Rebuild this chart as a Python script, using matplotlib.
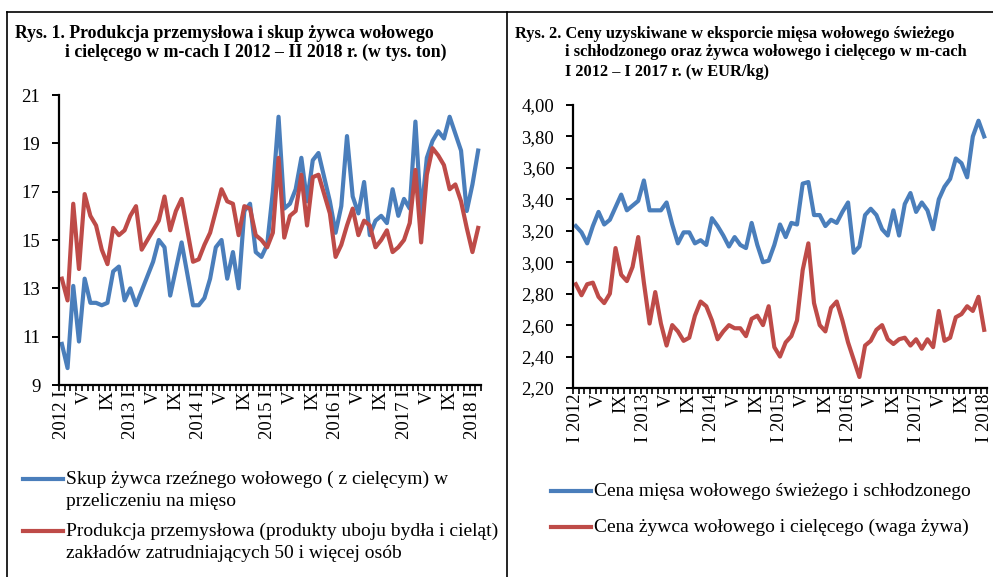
import matplotlib.pyplot as plt
from matplotlib.lines import Line2D

plt.rcParams['font.family'] = ['Liberation Serif', 'DejaVu Serif']

# Rys. 1 - miesiace I 2012 - II 2018 (tys. ton)
skup = [10.7, 9.7, 13.1, 10.8, 13.4, 12.4, 12.4, 12.3, 12.4, 13.7,
        13.9, 12.5, 13.0, 12.3, 12.9, 13.5, 14.1, 15.0, 14.7, 12.7,
        13.8, 14.9, 13.6, 12.3, 12.3, 12.6, 13.4, 14.7, 15.0, 13.4,
        14.5, 13.0, 16.2, 16.5, 14.5, 14.3, 14.8, 17.0, 20.1, 16.3,
        16.5, 17.1, 18.4, 16.6, 18.3, 18.6, 17.6, 16.6, 15.3, 16.4,
        19.3, 16.8, 16.1, 17.4, 15.2, 15.8, 16.0, 15.7, 17.1, 16.0,
        16.7, 16.3, 19.9, 16.0, 18.4, 19.1, 19.5, 19.2, 20.1, 19.4,
        18.7, 16.2, 17.3, 18.7]
produkcja = [13.4, 12.5, 16.5, 13.8, 16.9, 16.0, 15.6, 14.6, 14.0, 15.5,
             15.2, 15.4, 16.0, 16.4, 14.6, 15.0, 15.4, 15.8, 16.8, 15.4,
             16.2, 16.7, 15.4, 14.1, 14.2, 14.8, 15.3, 16.2, 17.1, 16.6,
             16.5, 15.2, 16.4, 16.3, 15.2, 15.0, 14.7, 15.3, 18.4, 15.1,
             16.0, 16.2, 17.7, 15.6, 17.6, 17.7, 16.9, 16.1, 14.3, 14.8,
             15.6, 16.3, 15.2, 15.8, 15.6, 14.7, 15.0, 15.4, 14.5, 14.7,
             15.0, 15.7, 17.9, 14.9, 17.7, 18.8, 18.5, 18.1, 17.1, 17.3,
             16.6, 15.5, 14.5, 15.5]
labels1 = ['2012 I', 'V', 'IX', '2013 I', 'V', 'IX', '2014 I', 'V', 'IX',
           '2015 I', 'V', 'IX', '2016 I', 'V', 'IX', '2017 I', 'V', 'IX', '2018 I']

# Rys. 2 - ceny eksportowe (EUR/kg), I 2012 - I 2018
cena_mieso = [3.23, 3.19, 3.12, 3.23, 3.32, 3.24, 3.27, 3.35, 3.43, 3.33,
              3.36, 3.39, 3.52, 3.33, 3.33, 3.33, 3.38, 3.24, 3.12, 3.19,
              3.19, 3.12, 3.14, 3.11, 3.28, 3.23, 3.17, 3.10, 3.16, 3.11,
              3.09, 3.25, 3.11, 3.00, 3.01, 3.11, 3.24, 3.16, 3.25, 3.24,
              3.50, 3.51, 3.30, 3.30, 3.23, 3.27, 3.25, 3.32, 3.38, 3.06,
              3.10, 3.30, 3.34, 3.30, 3.21, 3.17, 3.33, 3.17, 3.37, 3.44,
              3.32, 3.38, 3.33, 3.21, 3.40, 3.48, 3.53, 3.66, 3.63, 3.54,
              3.80, 3.90, 3.80]
cena_zywiec = [2.86, 2.79, 2.86, 2.87, 2.78, 2.74, 2.80, 3.09, 2.92, 2.88,
               2.97, 3.16, 2.87, 2.61, 2.81, 2.61, 2.47, 2.60, 2.56, 2.50,
               2.52, 2.66, 2.75, 2.72, 2.63, 2.51, 2.56, 2.60, 2.58, 2.58,
               2.53, 2.64, 2.66, 2.60, 2.72, 2.46, 2.40, 2.49, 2.53, 2.63,
               2.95, 3.12, 2.74, 2.60, 2.56, 2.71, 2.75, 2.63, 2.49, 2.38,
               2.27, 2.47, 2.50, 2.57, 2.60, 2.51, 2.48, 2.51, 2.52, 2.47,
               2.51, 2.45, 2.51, 2.46, 2.69, 2.50, 2.52, 2.65, 2.67, 2.72,
               2.69, 2.78, 2.57]
labels2 = ['I 2012', 'V', 'IX', 'I 2013', 'V', 'IX', 'I 2014', 'V', 'IX',
           'I 2015', 'V', 'IX', 'I 2016', 'V', 'IX', 'I 2017', 'V', 'IX', 'I 2018']

BLUE = '#4a7ebb'
RED = '#be4b48'

W, H = 993, 577
fig = plt.figure(figsize=(W / 100, H / 100), dpi=100)


def fx(px):
    return px / W


def fy(py):
    return 1 - py / H


def style_axes(ax, n, labels):
    for s in ['top', 'right']:
        ax.spines[s].set_visible(False)
    for s in ['left', 'bottom']:
        ax.spines[s].set_linewidth(1.6)
    ax.set_xlim(-0.5, n - 0.5)
    ax.set_xticks(range(0, n, 4))
    ax.set_xticklabels(labels, rotation=90, fontsize=13.5)
    ax.set_xticks([i - 0.5 for i in range(n + 1)], minor=True)
    ax.tick_params(axis='x', which='major', length=0, pad=4)
    ax.tick_params(axis='x', which='minor', length=4, width=1.2, direction='out')
    ax.tick_params(axis='y', length=5, width=1.4, labelsize=13.5, pad=8.5)


# --- Rys. 1 ---
ax1 = fig.add_axes([fx(59), fy(385), fx(481 - 59), (385 - 95) / H])
x1 = list(range(len(skup)))
ax1.plot(x1, skup, color=BLUE, lw=3, solid_joinstyle='round')
ax1.plot(x1, produkcja, color=RED, lw=3, solid_joinstyle='round')
ax1.set_ylim(9, 21)
ax1.set_yticks(range(9, 22, 2))
style_axes(ax1, len(skup), labels1)

# --- Rys. 2 ---
ax2 = fig.add_axes([fx(573), fy(388), fx(987 - 573), (388 - 105) / H])
x2 = list(range(len(cena_mieso)))
ax2.plot(x2, cena_mieso, color=BLUE, lw=3, solid_joinstyle='round')
ax2.plot(x2, cena_zywiec, color=RED, lw=3, solid_joinstyle='round')
ax2.set_ylim(2.2, 4.0)
yt = [2.2 + 0.2 * k for k in range(10)]
ax2.set_yticks(yt)
ax2.set_yticklabels([f'{v:.2f}'.replace('.', ',') for v in yt])
style_axes(ax2, len(cena_mieso), labels2)

# tytuly
tk = dict(fontsize=12.8, fontweight='bold', va='center', ha='left')
fig.text(fx(15), fy(34), 'Rys. 1. Produkcja przemysłowa i skup żywca wołowego', **tk)
fig.text(fx(65), fy(52), 'i cielęcego w m-cach I 2012 – II 2018 r. (w tys. ton)', **tk)
tk2 = dict(tk, fontsize=11.8)
fig.text(fx(515), fy(34), 'Rys. 2. Ceny uzyskiwane w eksporcie mięsa wołowego świeżego', **tk2)
fig.text(fx(565), fy(52.5), 'i schłodzonego oraz żywca wołowego i cielęcego w m-cach', **tk2)
fig.text(fx(565), fy(71.5), 'I 2012 – I 2017 r. (w EUR/kg)', **tk2)

# legendy (reczne, jak w Excelu)
lk = dict(fontsize=14, va='center', ha='left')
fig.add_artist(Line2D([fx(23), fx(63)], [fy(479), fy(479)], color=BLUE, lw=3))
fig.text(fx(66), fy(479), 'Skup żywca rzeźnego wołowego ( z cielęcym) w', **lk)
fig.text(fx(66), fy(501), 'przeliczeniu na mięso', **lk)
fig.add_artist(Line2D([fx(23), fx(63)], [fy(531), fy(531)], color=RED, lw=3))
fig.text(fx(66), fy(531), 'Produkcja przemysłowa (produkty uboju bydła i cieląt)', **lk)
fig.text(fx(66), fy(553), 'zakładów zatrudniających 50 i więcej osób', **lk)

fig.add_artist(Line2D([fx(551), fx(591)], [fy(491), fy(491)], color=BLUE, lw=3))
fig.text(fx(594), fy(491), 'Cena mięsa wołowego świeżego i schłodzonego', **lk)
fig.add_artist(Line2D([fx(551), fx(591)], [fy(527), fy(527)], color=RED, lw=3))
fig.text(fx(594), fy(527), 'Cena żywca wołowego i cielęcego (waga żywa)', **lk)

# ramki
for xs, ys in [([7, 993], [12, 12]), ([7, 7], [12, 577]), ([507, 507], [12, 577])]:
    fig.add_artist(Line2D([fx(v) for v in xs], [fy(v) for v in ys], color='black', lw=1.2))

fig.savefig('out.png', dpi=100)
